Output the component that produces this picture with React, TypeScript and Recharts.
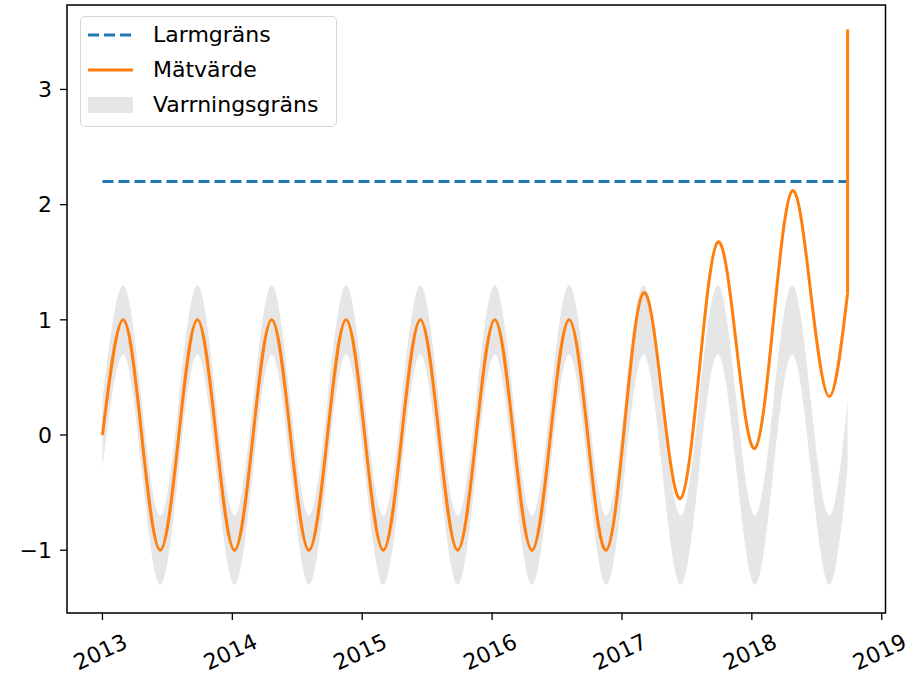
import { Area, ComposedChart, Legend, Line, ReferenceArea, XAxis, YAxis } from 'recharts';

const FONT = '"DejaVu Sans", Verdana, sans-serif';

// sample dates (decimal years) at peaks, troughs and zero crossings
const years = [
  2013.0, 2013.159, 2013.302, 2013.445, 2013.588, 2013.731, 2013.874, 2014.017, 2014.16, 2014.303,
  2014.447, 2014.59, 2014.733, 2014.876, 2015.019, 2015.162, 2015.305, 2015.448, 2015.591, 2015.735,
  2015.878, 2016.021, 2016.164, 2016.307, 2016.45, 2016.593, 2016.736, 2016.879, 2017.023, 2017.166,
  2017.309, 2017.452, 2017.595, 2017.738, 2017.881, 2018.024, 2018.167, 2018.311, 2018.454, 2018.597,
  2018.737,
];

const matvarde = [
  0, 1, 0, -1, 0, 1, 0, -1, 0, 1,
  0, -1, 0, 1, 0, -1, 0, 1, 0, -1,
  0, 1, 0, -1, 0, 1, 0, -1, 0.12, 1.235,
  0.34, -0.55, 0.56, 1.675, 0.78, -0.115, 1.0, 2.12, 1.23, 0.335,
  1.23,
];

const bandLow = [
  -0.3, 0.7, -0.3, -1.3, -0.3, 0.7, -0.3, -1.3, -0.3, 0.7,
  -0.3, -1.3, -0.3, 0.7, -0.3, -1.3, -0.3, 0.7, -0.3, -1.3,
  -0.3, 0.7, -0.3, -1.3, -0.3, 0.7, -0.3, -1.3, -0.3, 0.7,
  -0.3, -1.3, -0.3, 0.7, -0.3, -1.3, -0.3, 0.7, -0.3, -1.3,
  -0.3,
];

const bandHigh = [
  0.3, 1.3, 0.3, -0.7, 0.3, 1.3, 0.3, -0.7, 0.3, 1.3,
  0.3, -0.7, 0.3, 1.3, 0.3, -0.7, 0.3, 1.3, 0.3, -0.7,
  0.3, 1.3, 0.3, -0.7, 0.3, 1.3, 0.3, -0.7, 0.3, 1.3,
  0.3, -0.7, 0.3, 1.3, 0.3, -0.7, 0.3, 1.3, 0.3, -0.7,
  0.3,
];

const larmgrans = 2.2;

// last sample: vertical jump of the measured value
const jumpYears = [2018.737, 2018.737];
const jumpValues = [1.23, 3.52];

const xTicks = [2013, 2014, 2015, 2016, 2017, 2018, 2019];
const yTicks = [-1, 0, 1, 2, 3];

const X_DOMAIN: [number, number] = [2012.727, 2019.029];
const Y_DOMAIN: [number, number] = [-1.545, 3.733];

const data = [
  ...years.map((x, i) => ({
    x,
    mat: matvarde[i],
    band: [bandLow[i], bandHigh[i]],
    larm: larmgrans,
  })),
  ...jumpYears.map((x, i) => ({ x, jump: jumpValues[i] })),
];

function XTick({ x, y, payload }: any) {
  return (
    <g transform={`translate(${x - 2},${y + 30}) rotate(-25)`}>
      <text
        textAnchor="middle"
        dominantBaseline="central"
        fontSize={22}
        fontFamily={FONT}
        fill="#000"
      >
        {payload.value}
      </text>
    </g>
  );
}

function LegendBox() {
  const row = { display: 'flex', alignItems: 'center', height: 35 } as const;
  const label = { marginLeft: 20, lineHeight: '22px' } as const;
  return (
    <div
      style={{
        boxSizing: 'border-box',
        width: 257,
        height: 111,
        border: '1px solid #d6d6d6',
        borderRadius: 5,
        background: 'rgba(255,255,255,0.8)',
        paddingLeft: 7,
        fontFamily: FONT,
        fontSize: 22,
        color: '#000',
      }}
    >
      <div style={row}>
        <svg width={45} height={16}>
          <line x1={0} x2={45} y1={8} y2={8} stroke="#1f77b4" strokeWidth={3} strokeDasharray="11 5" />
        </svg>
        <span style={label}>Larmgräns</span>
      </div>
      <div style={row}>
        <svg width={45} height={16}>
          <line x1={0} x2={45} y1={8} y2={8} stroke="#ff7f0e" strokeWidth={3} />
        </svg>
        <span style={label}>Mätvärde</span>
      </div>
      <div style={row}>
        <svg width={45} height={16}>
          <rect x={0} y={0} width={45} height={16} fill="#e6e6e6" />
        </svg>
        <span style={label}>Varrningsgräns</span>
      </div>
    </div>
  );
}

export default function App() {
  return (
    <div style={{ width: 917, height: 675, background: '#fff' }}>
      <style>{'body{margin:0}'}</style>
      <ComposedChart
        width={917}
        height={675}
        data={data}
        margin={{ top: 5, right: 31.5, bottom: 10, left: 0 }}
      >
        <XAxis
          dataKey="x"
          type="number"
          domain={X_DOMAIN}
          ticks={xTicks}
          allowDataOverflow
          height={52}
          axisLine={false}
          tickSize={7}
          tickMargin={2}
          tickLine={{ stroke: '#000', strokeWidth: 1.3 }}
          tick={<XTick />}
        />
        <YAxis
          type="number"
          domain={Y_DOMAIN}
          ticks={yTicks}
          allowDataOverflow
          width={67}
          axisLine={false}
          tickSize={7}
          tickMargin={8}
          tickLine={{ stroke: '#000', strokeWidth: 1.3 }}
          tick={{ fill: '#000', fontSize: 22, fontFamily: FONT }}
          tickFormatter={(v: number) => String(v).replace('-', '\u2212')}
        />
        <Area
          type="natural"
          dataKey="band"
          stroke="none"
          fill="#e6e6e6"
          fillOpacity={1}
          connectNulls
          dot={false}
          activeDot={false}
          isAnimationActive={false}
        />
        <Line
          type="linear"
          dataKey="larm"
          stroke="#1f77b4"
          strokeWidth={3}
          strokeDasharray="11 5"
          dot={false}
          activeDot={false}
          connectNulls
          isAnimationActive={false}
        />
        <Line
          type="natural"
          dataKey="mat"
          stroke="#ff7f0e"
          strokeWidth={3}
          dot={false}
          activeDot={false}
          connectNulls
          isAnimationActive={false}
        />
        <Line
          type="linear"
          dataKey="jump"
          stroke="#ff7f0e"
          strokeWidth={3}
          dot={false}
          activeDot={false}
          connectNulls
          isAnimationActive={false}
        />
        <ReferenceArea
          x1={X_DOMAIN[0]}
          x2={X_DOMAIN[1]}
          y1={Y_DOMAIN[0]}
          y2={Y_DOMAIN[1]}
          fill="none"
          stroke="#000"
          strokeWidth={1.5}
          ifOverflow="visible"
        />
        <Legend
          layout="vertical"
          align="center"
          verticalAlign="middle"
          content={() => <LegendBox />}
          wrapperStyle={{ left: 80, top: 16, width: 257, height: 111 }}
        />
      </ComposedChart>
    </div>
  );
}
